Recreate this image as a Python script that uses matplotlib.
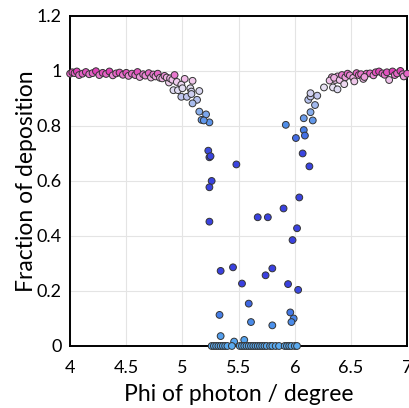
import numpy as np
import matplotlib.pyplot as plt
from matplotlib.colors import LinearSegmentedColormap

# phi (degree) and fraction of deposition
PHI = [
    # left plateau
    4.00, 4.02, 4.04, 4.06, 4.08, 4.11, 4.14, 4.17, 4.20, 4.23, 4.26, 4.29,
    4.32, 4.35, 4.38, 4.41, 4.44, 4.47, 4.50, 4.52, 4.55, 4.58, 4.60, 4.62,
    4.65, 4.67, 4.70, 4.72, 4.74, 4.76, 4.78, 4.80,
    # left shoulder
    4.82, 4.84, 4.86, 4.88, 4.89, 4.91, 4.93, 4.95, 4.92, 4.96, 4.99, 5.02,
    5.00, 5.09, 5.07, 5.08, 5.15, 4.99, 5.04, 5.08, 5.13, 5.09, 5.15, 5.21,
    5.17, 5.24, 5.19,
    # left edge falling
    5.23, 5.24, 5.25, 5.26, 5.24, 5.24, 5.48,
    # middle scattered
    5.67, 5.76, 5.90, 6.04, 6.02, 5.98, 5.34, 5.45, 5.80, 5.74, 5.53, 5.94,
    6.03, 5.59, 5.33, 5.96, 5.99, 5.97, 5.61, 5.80, 5.34, 5.46, 5.55,
    # zeros
    5.26, 5.28, 5.30, 5.32, 5.34, 5.36, 5.38, 5.40, 5.44, 5.51, 5.53, 5.55,
    5.57, 5.59, 5.61, 5.63, 5.65, 5.67, 5.69, 5.71, 5.73, 5.75, 5.78, 5.80,
    5.83, 5.86, 5.91, 5.93, 5.95, 5.97, 6.00, 6.02,
    # right edge rising
    5.92, 6.08, 6.09, 6.01, 6.07, 6.13, 6.16, 6.08, 6.14, 6.18, 6.12, 6.14,
    6.14, 6.20, 6.26, 6.34, 6.38, 6.33, 6.36, 6.38, 6.31,
    # right plateau
    6.35, 6.40, 6.42, 6.45, 6.47, 6.49, 6.52, 6.55, 6.57, 6.59, 6.61, 6.64,
    6.67, 6.70, 6.72, 6.75, 6.78, 6.80, 6.82, 6.84, 6.87, 6.89, 6.91, 6.94,
    6.96, 6.97, 7.00, 6.44, 6.53, 6.62,
]
FRACTION = [
    0.990, 0.995, 0.992, 0.998, 0.985, 0.990, 0.996, 0.988, 0.992, 0.999,
    0.985, 0.993, 0.989, 0.998, 0.984, 0.991, 0.994, 0.986, 0.993, 0.982,
    0.990, 0.985, 0.996, 0.978, 0.988, 0.983, 0.992, 0.976, 0.987, 0.980,
    0.990, 0.975,
    0.973, 0.982, 0.976, 0.958, 0.973, 0.968, 0.985, 0.960, 0.930, 0.930,
    0.950, 0.971, 0.937, 0.964, 0.937, 0.925, 0.927, 0.906, 0.906, 0.916,
    0.895, 0.882, 0.852, 0.842, 0.822, 0.813, 0.820,
    0.710, 0.686, 0.690, 0.600, 0.577, 0.452, 0.660,
    0.468, 0.468, 0.500, 0.540, 0.428, 0.385, 0.273, 0.286, 0.282, 0.257,
    0.227, 0.225, 0.204, 0.154, 0.113, 0.122, 0.100, 0.087, 0.087, 0.075,
    0.036, 0.016, 0.022,
    0.0, 0.0, 0.0, 0.0, 0.0, 0.0, 0.0, 0.0, 0.0, 0.0, 0.0, 0.0,
    0.0, 0.0, 0.0, 0.0, 0.0, 0.0, 0.0, 0.0, 0.0, 0.0, 0.0, 0.0,
    0.0, 0.0, 0.0, 0.0, 0.0, 0.0, 0.0, 0.0,
    0.804, 0.785, 0.765, 0.756, 0.700, 0.653, 0.820, 0.828, 0.850, 0.876,
    0.895, 0.907, 0.919, 0.910, 0.940, 0.940, 0.933, 0.977, 0.967, 0.980,
    0.965,
    0.975, 0.967, 0.985, 0.977, 0.990, 0.984, 0.975, 0.992, 0.985, 0.988,
    0.971, 0.990, 0.991, 0.984, 0.995, 0.998, 0.991, 0.986, 0.995, 0.967,
    0.998, 0.985, 0.991, 1.000, 0.988, 0.980, 0.990, 0.952, 0.962, 0.978,
]

X_TICKS = [4, 4.5, 5, 5.5, 6, 6.5, 7]
X_TICK_LABELS = ['4', '4.5', '5', '5.5', '6', '6.5', '7']
Y_TICKS = [0, 0.2, 0.4, 0.6, 0.8, 1.0, 1.2]
Y_TICK_LABELS = ['0', '0.2', '0.4', '0.6', '0.8', '1', '1.2']

# colour follows the fraction, light blue at zero, deep blue in the middle,
# white then magenta near one
cmap = LinearSegmentedColormap.from_list('dep', [
    (0.00, '#5aaaf0'),
    (0.06, '#4f98ec'),
    (0.14, '#3f6fe4'),
    (0.22, '#3a40e0'),
    (0.70, '#3a44e0'),
    (0.80, '#4a8ae8'),
    (0.86, '#8fb2ee'),
    (0.91, '#c4c8ef'),
    (0.945, '#ece4f3'),
    (0.975, '#f0b8e6'),
    (1.00, '#e040b8'),
])

plt.rcParams['font.family'] = ['Lato', 'DejaVu Sans']

fig = plt.figure(figsize=(4.1, 4.08), dpi=100)
ax = fig.add_axes([0.171, 0.152, 0.822, 0.809])

ax.scatter(PHI, FRACTION, c=FRACTION, cmap=cmap, vmin=0, vmax=1,
           s=24, edgecolors='#333333', linewidths=0.7, zorder=3, clip_on=False)

ax.set_xlim(4, 7)
ax.set_ylim(0, 1.2)
ax.set_xticks(X_TICKS, X_TICK_LABELS)
ax.set_yticks(Y_TICKS, Y_TICK_LABELS)
ax.tick_params(axis='x', length=0, labelsize=13, pad=10)
ax.tick_params(axis='y', length=0, labelsize=13, pad=6)
ax.grid(color='#e4e4e4', linewidth=0.8, zorder=0)
ax.set_axisbelow(True)
for sp in ax.spines.values():
    sp.set_linewidth(1.4)

ax.set_xlabel('Phi of photon / degree', fontsize=16.5, labelpad=6)
ax.set_ylabel('Fraction of deposition', fontsize=16.5, labelpad=0)

fig.savefig('out.png', dpi=100)
